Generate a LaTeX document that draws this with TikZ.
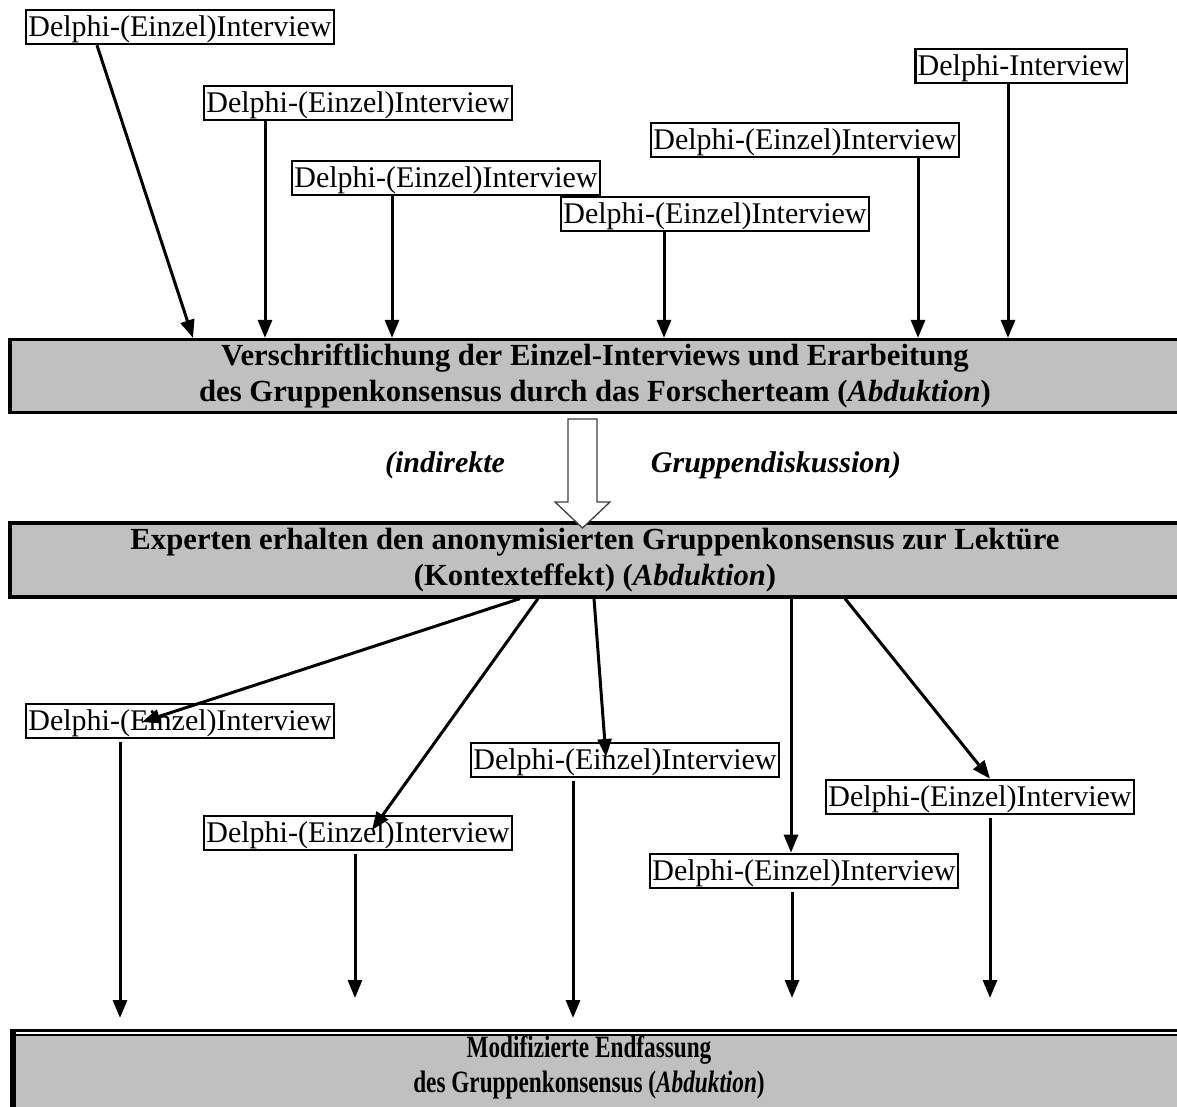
\documentclass[tikz,border=0pt]{standalone}
\usepackage{fontspec}
\usepackage{graphicx}
\setmainfont{Liberation Serif}
\usetikzlibrary{arrows.meta,calc}
\definecolor{graybg}{HTML}{C0C0C0}
\begin{document}
\begin{tikzpicture}[x=1pt,y=-1pt,
  interview/.style={draw,line width=2.6pt,inner xsep=2.5pt,inner ysep=0pt,
    text height=26.5pt,text depth=7.5pt,font=\fontsize{30}{34}\selectfont},
  graybox/.style={draw,line width=3.2pt,fill=graybg,align=center,
    minimum width=1170pt,font=\fontsize{30.7}{36}\selectfont\bfseries},
  lbl/.style={font=\fontsize{30}{36}\selectfont\bfseries\itshape},
  arr/.style={line width=3pt,-{Triangle[width=14pt,length=18pt]}},
]
\useasboundingbox (0,0) rectangle (1177,1107);
\clip (0,0) rectangle (1177,1107);

% top interviews
\node[interview] (d1) at (180,27) {Delphi-(Einzel)Interview};
\node[interview] (d2) at (358,103) {Delphi-(Einzel)Interview};
\node[interview] (d3) at (446,178) {Delphi-(Einzel)Interview};
\node[interview] (d4) at (715,214) {Delphi-(Einzel)Interview};
\node[interview] (d5) at (805,140) {Delphi-(Einzel)Interview};
\node[interview] (d6) at (1021,66) {Delphi-Interview};

% gray boxes
\node[graybox,minimum height=73pt] (g1) at (595,376)
  {Verschriftlichung der Einzel-Interviews und Erarbeitung\\
   des Gruppenkonsensus durch das Forscherteam (\textit{Abduktion})};
\node[graybox,minimum height=74pt] (g2) at (595,560)
  {Experten erhalten den anonymisierten Gruppenkonsensus zur Lektüre\\
   (Kontexteffekt) (\textit{Abduktion})};

% hollow arrow and labels
\draw[line width=1.3pt,draw=black!75,fill=white]
  (568,419) -- (597,419) -- (597,502) -- (610,502) -- (582.5,528)
  -- (555,502) -- (568,502) -- cycle;
\node[lbl] (l1) at (445,465) {(indirekte};
\node[lbl] (l2) at (776,465) {Gruppendiskussion)};

% lower interviews
\node[interview] (a) at (180,721) {Delphi-(Einzel)Interview};
\node[interview] (b) at (358,833) {Delphi-(Einzel)Interview};
\node[interview] (c) at (625,760) {Delphi-(Einzel)Interview};
\node[interview] (d) at (804,871) {Delphi-(Einzel)Interview};
\node[interview] (e) at (980,797) {Delphi-(Einzel)Interview};

% bottom box
\fill[graybg] (10,1034) rectangle (1190,1120);
\draw[line width=2.2pt] (10,1030.5) -- (1190,1030.5);
\draw[line width=2.2pt] (13,1034.8) -- (1190,1034.8);
\fill (10,1029.5) rectangle (15.5,1110);
\node[align=center,font=\fontsize{31}{35}\selectfont\bfseries] (g3) at (589,1067)
  {\scalebox{0.75}[1]{Modifizierte Endfassung}\\
   \scalebox{0.75}[1]{des Gruppenkonsensus (\textit{Abduktion})}};

% coordinates for free arrow ends
\coordinate (ea) at (120,1018);
\coordinate (eb) at (355,998);
\coordinate (ec) at (573,1018);
\coordinate (ed) at (792,998);
\coordinate (ee) at (990,998);

% arrows into g1
\draw[arr] (97,0 |- d1.south) -- (193,0 |- g1.north);
\draw[arr] (265,0 |- d2.south) -- (265,0 |- g1.north);
\draw[arr] (392,0 |- d3.south) -- (392,0 |- g1.north);
\draw[arr] (664,0 |- d4.south) -- (664,0 |- g1.north);
\draw[arr] (918,0 |- d5.south) -- (918,0 |- g1.north);
\draw[arr] (1008,0 |- d6.south) -- (1008,0 |- g1.north);

% arrows from g2
\draw[arr] (520,0 |- g2.south) -- ($(a.center)+(-38,1)$);
\draw[arr] (538,0 |- g2.south) -- ($(b.center)+(14,-3)$);
\draw[arr] (594,0 |- g2.south) -- ($(c.center)+(-19,-3)$);
\draw[arr] (791,0 |- g2.south) -- (791,0 |- d.north);
\draw[arr] (845,0 |- g2.south) -- (990,0 |- e.north);

% arrows to bottom
\draw[arr] ($(120,0 |- a.south)+(0,3)$) -- (ea);
\draw[arr] ($(355,0 |- b.south)+(0,3)$) -- (eb);
\draw[arr] ($(573,0 |- c.south)+(0,3)$) -- (ec);
\draw[arr] ($(792,0 |- d.south)+(0,3)$) -- (ed);
\draw[arr] ($(990,0 |- e.south)+(0,3)$) -- (ee);
\end{tikzpicture}
\end{document}
